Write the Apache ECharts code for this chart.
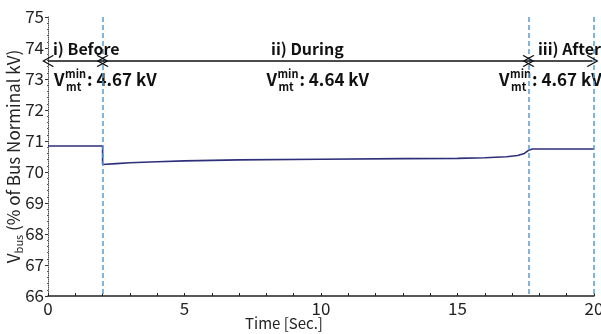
<!DOCTYPE html>
<html>
<head>
<meta charset="utf-8">
<script src="https://cdn.jsdelivr.net/npm/echarts@6/dist/echarts.min.js"></script>
<style>
  html, body { margin: 0; padding: 0; background: #fff; }
  #chart { width: 601px; height: 334px; }
</style>
</head>
<body>
<div id="chart"></div>
<script>
// bus voltage trace (% of nominal) over time
const time = [0, 2, 2, 2.5, 3, 4, 5, 7, 10, 13, 15, 16, 16.8, 17.2, 17.45, 17.6, 17.75, 20];
const voltage = [70.84, 70.84, 70.24, 70.27, 70.3, 70.33, 70.36, 70.39, 70.41, 70.43, 70.44, 70.46, 70.49, 70.53, 70.6, 70.7, 70.74, 70.74];

// phase boundaries (dashed markers)
const boundaries = [2, 17.6, 20];

// phase annotations
const phaseNames = ["i) Before", "ii) During", "iii) After"];
const phaseStart = [0, 2, 17.6];
const phaseEnd = [2, 17.6, 19.95];
const phaseCenter = [1.4, 9.5, 19.1];
const vminValues = ["4.67", "4.64", "4.67"];
const vminCenter = [1.98, 9.76, 18.28];

const arrowY = 73.58;
const nameY = 73.97;
const vminY = 72.97;

const FONT = '"Noto Sans CJK KR", "Noto Sans", sans-serif';
const chevron = "path://M0,0 L10,11 L8.6,12.2 L0,2.6 L-8.6,12.2 L-10,11 Z";

const chart = echarts.init(document.getElementById("chart"), null, { renderer: "canvas" });

const option = {
  backgroundColor: "#fff",
  animation: false,
  textStyle: { fontFamily: FONT },
  grid: { left: 48, right: 7, top: 17, bottom: 38, containLabel: false, outerBoundsMode: "none" },
  xAxis: {
    type: "value",
    min: 0,
    max: 20,
    interval: 5,
    name: "Time [Sec.]",
    nameLocation: "middle",
    nameGap: 20,
    nameMoveOverlap: false,
    nameTextStyle: { fontSize: 15, color: "#222", padding: [0, 74, 0, 0], fontFamily: FONT },
    axisLine: { lineStyle: { color: "#222", width: 1.5 } },
    axisTick: { show: true, inside: true, length: 3, lineStyle: { color: "#222" } },
    minorTick: { show: true, splitNumber: 5, length: 3, lineStyle: { color: "#222" } },
    axisLabel: { fontSize: 17, color: "#222", margin: 4, fontFamily: FONT },
    splitLine: { show: false },
  },
  yAxis: {
    type: "value",
    min: 66,
    max: 75,
    interval: 1,
    name: "{v|V}{s|bus}{v| (% of Bus Norminal kV)}",
    nameLocation: "middle",
    nameGap: 24,
    nameMoveOverlap: false,
    nameTextStyle: {
      color: "#222",
      rich: {
        v: { fontSize: 17, color: "#222", fontFamily: FONT },
        s: { fontSize: 11, color: "#222", fontFamily: FONT, padding: [9, 0, 0, 0] },
      },
    },
    axisLine: { show: true, lineStyle: { color: "#555", type: "dotted", width: 1 } },
    axisTick: { show: true, length: 3, lineStyle: { color: "#333" } },
    minorTick: { show: true, splitNumber: 5, length: 1, lineStyle: { color: "#555" } },
    axisLabel: { fontSize: 17, color: "#222", margin: 4, fontFamily: FONT },
    splitLine: { show: false },
  },
  series: [
    {
      type: "line",
      data: time.map((t, i) => [t, voltage[i]]),
      showSymbol: false,
      lineStyle: { color: "#2e2f7a", width: 1.6 },
      z: 3,
    },
    {
      type: "line",
      data: [],
      z: 4,
      markLine: {
        silent: true,
        symbol: ["none", "none"],
        label: { show: false },
        lineStyle: { color: "#5b9bd5", type: [5, 3], width: 1.5 },
        data: boundaries.map((b) => [{ coord: [b, 75] }, { coord: [b, 66] }]),
      },
    },
    {
      type: "line",
      data: [],
      markLine: {
        silent: true,
        symbol: [chevron, chevron],
        symbolSize: [12, 12],
        label: { show: false },
        lineStyle: { color: "#111", type: "solid", width: 1.6 },
        data: phaseStart.map((s, i) => [{ coord: [s, arrowY] }, { coord: [phaseEnd[i], arrowY] }]),
      },
    },
  ],
};

chart.setOption(option);

// text annotations placed after layout, from data coordinates
const graphics = [];
phaseNames.forEach((name, i) => {
  const p = chart.convertToPixel({ gridIndex: 0 }, [phaseCenter[i], nameY]);
  graphics.push({
    type: "text",
    x: p[0],
    y: p[1],
    z: 10,
    style: {
      text: name,
      font: "bold 16px " + FONT,
      fill: "#111",
      align: "center",
      verticalAlign: "middle",
    },
  });
});
vminValues.forEach((val, i) => {
  const p = chart.convertToPixel({ gridIndex: 0 }, [vminCenter[i], vminY]);
  const left = p[0] - 48;
  const bold = "bold 17px " + FONT;
  const small = "bold 11px " + FONT;
  graphics.push({
    type: "group",
    x: left,
    y: p[1],
    z: 10,
    children: [
      { type: "text", x: 0, y: 0, style: { text: "V", font: bold, fill: "#111", verticalAlign: "middle" } },
      { type: "text", x: 11, y: -6, style: { text: "min", font: small, fill: "#111", verticalAlign: "middle" } },
      { type: "text", x: 12, y: 7, style: { text: "mt", font: small, fill: "#111", verticalAlign: "middle" } },
      { type: "text", x: 33, y: 0, style: { text: ": " + val + " kV", font: bold, fill: "#111", verticalAlign: "middle" } },
    ],
  });
});
chart.setOption({ graphic: graphics });
</script>
</body>
</html>
